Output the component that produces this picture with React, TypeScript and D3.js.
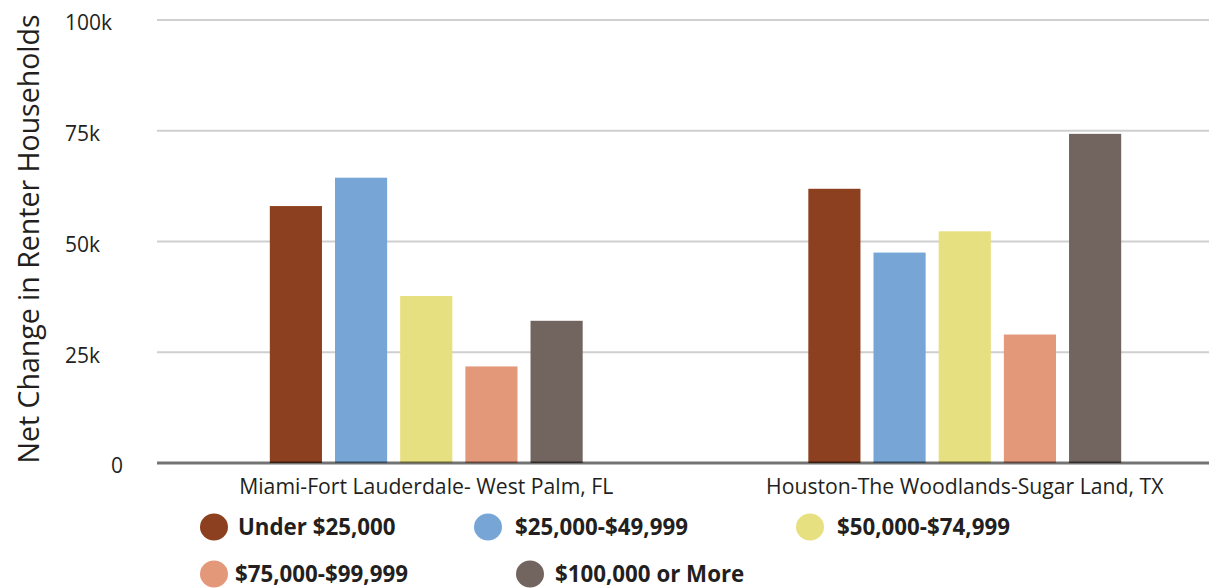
import * as d3 from "d3";

const metros = [
  "Miami-Fort Lauderdale- West Palm, FL",
  "Houston-The Woodlands-Sugar Land, TX",
];
const brackets = [
  "Under $25,000",
  "$25,000-$49,999",
  "$50,000-$74,999",
  "$75,000-$99,999",
  "$100,000 or More",
];
const colors = ["#8c401f", "#77a6d6", "#e6e081", "#e4987a", "#72645e"];
// net change per bracket, one array per metro
const miami = [58000, 64400, 37700, 21800, 32100];
const houston = [61900, 47500, 52300, 29000, 74300];
const yTicks = [0, 25000, 50000, 75000, 100000];
const tickLabels = ["0", "25k", "50k", "75k", "100k"];

const W = 1209;
const H = 588;
const font = "'Open Sans', 'Noto Sans', sans-serif";

export default function App() {
  const rows = [miami, houston];

  const x0 = d3
    .scaleBand()
    .domain(metros)
    .range([157, 1234])
    .paddingInner(0.419)
    .paddingOuter(0.2095);
  const x1 = d3
    .scaleBand()
    .domain(brackets)
    .range([0, x0.bandwidth()])
    .padding(0.2)
    .paddingOuter(0);
  const y = d3.scaleLinear().domain([0, 100000]).range([463, 20]);

  // legend slots: [circle x, row y, text x]
  const legendPos = [
    [214, 527, 238],
    [488, 527, 515],
    [810, 527, 837],
    [214, 574, 235],
    [530, 574, 555],
  ];

  return (
    <svg
      width={W}
      height={H}
      style={{ position: "absolute", left: 0, top: 0, background: "#fff" }}
      fontFamily={font}
    >
      {yTicks.slice(1).map((t) => (
        <line
          key={t}
          x1={157}
          x2={W}
          y1={y(t)}
          y2={y(t)}
          stroke="#cfcfcf"
          strokeWidth={2}
        />
      ))}
      {yTicks.map((t, i) => (
        <text
          key={t}
          x={t === 0 ? 111 : 65}
          y={y(t) + 3}
          dy="0.35em"
          fontSize={21}
          fill="#231f20"
        >
          {tickLabels[i]}
        </text>
      ))}
      <text
        transform={`translate(39,${239}) rotate(-90)`}
        textAnchor="middle"
        fontSize={28.5}
        fill="#231f20"
      >
        Net Change in Renter Households
      </text>

      {metros.map((m, mi) => (
        <g key={m} transform={`translate(${x0(m)},0)`}>
          {brackets.map((b, bi) => (
            <rect
              key={b}
              x={x1(b)}
              y={y(rows[mi][bi])}
              width={x1.bandwidth()}
              height={y(0) - y(rows[mi][bi])}
              fill={colors[bi]}
            />
          ))}
          <text
            x={x0.bandwidth() / 2}
            y={494}
            textAnchor="middle"
            fontSize={21.2}
            fill="#231f20"
          >
            {m}
          </text>
        </g>
      ))}

      <line
        x1={157}
        x2={W}
        y1={y(0)}
        y2={y(0)}
        stroke="#000"
        strokeOpacity={0.55}
        strokeWidth={3}
      />

      {brackets.map((b, i) => (
        <g key={b}>
          <ellipse
            cx={legendPos[i][0]}
            cy={legendPos[i][1]}
            rx={14}
            ry={13.5}
            fill={colors[i]}
          />
          <text
            x={legendPos[i][2]}
            y={legendPos[i][1]}
            dy="0.35em"
            fontSize={22.3}
            fontWeight="bold"
            fill="#231f20"
          >
            {b}
          </text>
        </g>
      ))}
    </svg>
  );
}
